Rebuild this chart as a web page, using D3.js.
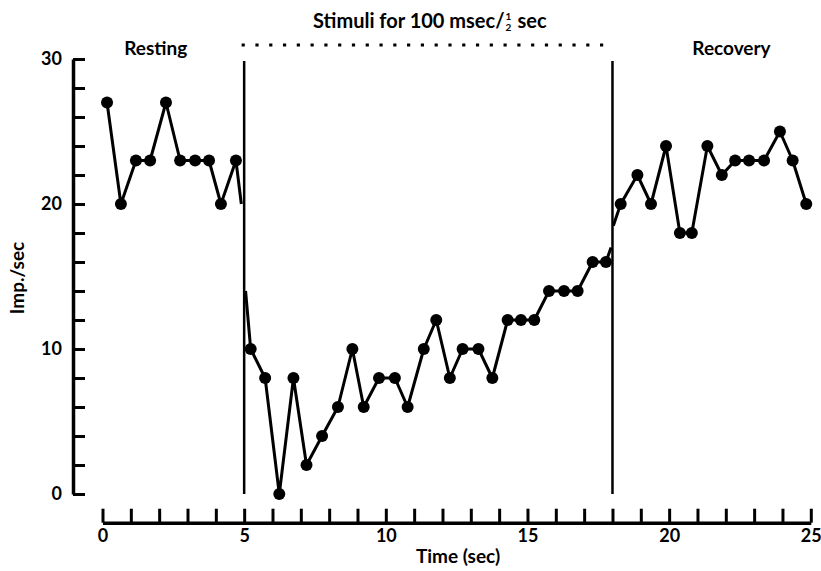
<!DOCTYPE html>
<html><head><meta charset="utf-8">
<script src="https://cdn.jsdelivr.net/npm/d3@7"></script>
<style>
html,body{margin:0;padding:0;background:#fff;}
text{font-family:Lato,"Open Sans",sans-serif;font-weight:700;fill:#000;}
</style></head>
<body><svg id="chart" width="821" height="571"></svg>
<script>
// ---- data ----
const restTimes  = [0.16,0.65,1.18,1.68,2.24,2.74,3.27,3.76,4.18,4.71];
const restValues = [27,20,23,23,27,23,23,23,20,23];
const stimTimes  = [5.23,5.74,6.24,6.74,7.2,7.75,8.31,8.82,9.22,9.76,10.32,10.77,11.34,11.78,12.26,12.71,13.27,13.76,14.3,14.77,15.24,15.76,16.29,16.77,17.3,17.77];
const stimValues = [10,8,0,8,2,4,6,10,6,8,8,6,10,12,8,10,10,8,12,12,12,14,14,14,16,16];
const recTimes   = [18.29,18.88,19.36,19.89,20.38,20.8,21.35,21.86,22.33,22.82,23.35,23.91,24.36,24.84];
const recValues  = [20,22,20,24,18,18,24,22,23,23,23,25,23,20];
// line pieces that run into the period markers (no dots)
const restTail = [4.9, 20];
const stimHead = [5.05, 14];
const stimTail = [17.95, 17];
const recHead  = [18.03, 18.5];
const periodBounds = [5, 18];
const stimDotsRange = [4.91, 17.56];
const xTickLabels = [0,5,10,15,20,25];
const yTickLabels = [0,10,20,30];
const titleParts = ["Stimuli for 100 msec/", "1", "2", "sec"];
const periodLabels = [{t:"Resting", x:1.88},{t:"Recovery", x:22.2}];

// ---- scales ----
const svg = d3.select("#chart");
const x = d3.scaleLinear().domain([0,25]).range([102.5,810.8]);
const y = d3.scaleLinear().domain([0,30]).range([494,59]);
const xAxisY = 522.7;

// y axis: ticks pointing right
const yAx = svg.append("g").attr("transform","translate(73,0)")
  .call(d3.axisRight(y).tickValues(d3.range(0,31,2)).tickSize(12).tickSizeOuter(0).tickFormat(""));
yAx.select(".domain").attr("stroke","#000").attr("stroke-width",3.5);
yAx.selectAll(".tick line").attr("stroke","#000").attr("stroke-width",3);
const yLab = svg.append("g").attr("transform","translate(73,0)")
  .call(d3.axisLeft(y).tickValues(yTickLabels).tickSize(0).tickPadding(11));
yLab.select(".domain").remove();
yLab.selectAll("text").style("font-size","18px").style("font-family","Lato").style("font-weight","700");

// x axis: ticks pointing up
const xAx = svg.append("g").attr("transform",`translate(0,${xAxisY})`)
  .call(d3.axisTop(x).tickValues(d3.range(0,26,1)).tickSize(14).tickSizeOuter(0).tickFormat(""));
xAx.select(".domain").attr("stroke","#000").attr("stroke-width",3.5);
xAx.selectAll(".tick line").attr("stroke","#000").attr("stroke-width",3);
const xLab = svg.append("g").attr("transform",`translate(0,${xAxisY})`)
  .call(d3.axisBottom(x).tickValues(xTickLabels).tickSize(0).tickPadding(7));
xLab.select(".domain").remove();
xLab.selectAll("text").style("font-size","18px").style("font-family","Lato").style("font-weight","700");

// axis titles
svg.append("text").attr("x",458).attr("y",563).attr("text-anchor","middle")
  .style("font-size","19px").text("Time (sec)");
svg.append("text").attr("transform","translate(24,278) rotate(-90)").attr("text-anchor","middle")
  .style("font-size","19px").text("Imp./sec");

// period boundaries
svg.selectAll("line.bound").data(periodBounds).join("line").attr("class","bound")
  .attr("x1",d=>x(d)).attr("x2",d=>x(d)).attr("y1",61).attr("y2",y(0))
  .attr("stroke","#000").attr("stroke-width",2.5);

// dotted stimulus bar (27 dots)
const dx0 = x(stimDotsRange[0]), dx1 = x(stimDotsRange[1]);
const gap = (dx1-dx0)/26;
svg.append("line").attr("x1",dx0).attr("x2",dx1+3.2)
  .attr("y1",45).attr("y2",45).attr("stroke","#000").attr("stroke-width",3.2)
  .attr("stroke-dasharray",`3.2,${gap-3.2}`);

// title with stacked ½
const t0 = svg.append("text").attr("x",313).attr("y",28).style("font-size","20px").text(titleParts[0]);
const w0 = t0.node().getComputedTextLength();
svg.append("text").attr("x",313+w0+1).attr("y",20).style("font-size","10px").text(titleParts[1]);
svg.append("text").attr("x",313+w0+1).attr("y",31).style("font-size","10px").text(titleParts[2]);
svg.append("text").attr("x",313+w0+13).attr("y",28).style("font-size","20px").text(titleParts[3]);

svg.selectAll("text.period").data(periodLabels).join("text").attr("class","period")
  .attr("x",d=>x(d.x)).attr("y",55).attr("text-anchor","middle").style("font-size","19px").text(d=>d.t);

// data lines
const line = d3.line().x(d=>x(d[0])).y(d=>y(d[1]));
const pairs = (ts,vs)=>ts.map((t,i)=>[t,vs[i]]);
const rest = pairs(restTimes,restValues), stim = pairs(stimTimes,stimValues), rec = pairs(recTimes,recValues);
const segs = [rest.concat([restTail]), [stimHead].concat(stim,[stimTail]), [recHead].concat(rec)];
svg.selectAll("path.series").data(segs).join("path").attr("class","series")
  .attr("d",line).attr("fill","none").attr("stroke","#000").attr("stroke-width",3).attr("stroke-linejoin","round");
svg.selectAll("circle.pt").data(rest.concat(stim,rec)).join("circle").attr("class","pt")
  .attr("cx",d=>x(d[0])).attr("cy",d=>y(d[1])).attr("r",6).attr("fill","#000");
</script></body></html>
